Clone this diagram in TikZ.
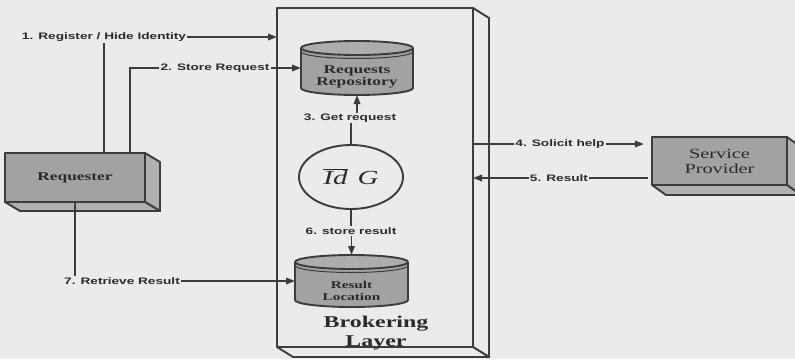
\documentclass[tikz,border=0pt]{standalone}
\usepackage{fontspec}
\setmainfont[FakeStretch=1.45]{Liberation Serif}
\newfontfamily\lblfont[FakeStretch=1.45]{Liberation Sans}
\usetikzlibrary{arrows.meta,calc,shapes.geometric}
\definecolor{bg}{HTML}{EBEBEB}
\definecolor{ln}{HTML}{3C3C3C}
\definecolor{boxf}{HTML}{A2A2A2}
\definecolor{boxs}{HTML}{B0B0B0}
\definecolor{cyltop}{HTML}{ADADAD}
\newcommand\lblf{\lblfont\bfseries\fontsize{9.4}{11}\selectfont}
\tikzset{
 edge/.style={draw=ln, line width=1.9pt},
 arr/.style={edge, -{Triangle[length=9pt,width=6.5pt]}},
 lbl/.style={font=\lblf, text=ln!70!black, inner sep=1pt},
 face/.style={draw=ln, line width=1.9pt, line join=round},
 holder/.style={inner sep=0pt, outer sep=0pt},
 boxtext/.style={font=\bfseries\fontsize{12}{12.5}\selectfont, text=ln!70!black, align=center},
}
\begin{document}
\begin{tikzpicture}[x=1pt,y=1pt]
\useasboundingbox (0,0) rectangle (795,-359);
\fill[bg] (0,0) rectangle (795,-359);

% Brokering layer (3D slab)
\draw[face, fill=bg] (473,-8) -- (489,-18) -- (489,-357) -- (473,-347) -- cycle;
\draw[face, fill=bg] (277,-347) -- (473,-347) -- (489,-357) -- (293,-357) -- cycle;
\node[face, holder, minimum width=196pt, minimum height=339pt] (bl) at (375,-177.5) {};
\node[font=\bfseries\fontsize{16.5}{19}\selectfont, text=ln!70!black, align=center] (blt) at (376,-333) {Brokering\\Layer};

% Requester (3D box)
\draw[face, fill=boxs] (145,-153) -- (160,-162) -- (160,-211) -- (145,-202) -- cycle;
\draw[face, fill=boxs] (5,-202) -- (145,-202) -- (160,-211) -- (20,-211) -- cycle;
\node[face, holder, fill=boxf, minimum width=140pt, minimum height=49pt, boxtext] (req) at (75,-177.5) {Requester};

% Service Provider (3D box)
\draw[face, fill=boxs] (787,-137) -- (801,-147) -- (801,-195) -- (787,-185) -- cycle;
\draw[face, fill=boxs] (652,-185) -- (787,-185) -- (801,-195) -- (666,-195) -- cycle;
\node[face, holder, fill=boxf, minimum width=135pt, minimum height=48pt, align=center,
      font=\fontsize{14}{15}\selectfont, text=ln!70!black] (sp) at (719.5,-161) {Service\\Provider};

% Requests Repository (cylinder)
\fill[boxf] (301,-48) -- (301,-88) arc[start angle=180,end angle=360,x radius=56,y radius=7] -- (413,-48) -- cycle;
\draw[face, fill=cyltop] (357,-48) ellipse[x radius=56,y radius=7];
\draw[draw=ln, line width=1pt] (301,-51.5) arc[start angle=180,end angle=360,x radius=56,y radius=7];
\draw[face] (301,-48) -- (301,-88) arc[start angle=180,end angle=360,x radius=56,y radius=7] -- (413,-48);
\node[holder, minimum width=112pt, minimum height=54pt] (rr) at (357,-68) {};
\node[boxtext] (rrt) at (357,-77) {Requests\\Repository};

% Result Location (cylinder)
\fill[boxf] (295,-262) -- (295,-300) arc[start angle=180,end angle=360,x radius=56.5,y radius=7] -- (408,-262) -- cycle;
\draw[face, fill=cyltop] (351.5,-262) ellipse[x radius=56.5,y radius=7];
\draw[draw=ln, line width=1pt] (295,-265.5) arc[start angle=180,end angle=360,x radius=56.5,y radius=7];
\draw[face] (295,-262) -- (295,-300) arc[start angle=180,end angle=360,x radius=56.5,y radius=7] -- (408,-262);
\node[holder, minimum width=113pt, minimum height=52pt] (rl) at (351.5,-281) {};
\node[boxtext, font=\bfseries\fontsize{10.5}{12}\selectfont] (rlt) at (351.5,-291) {Result\\Location};

% Identity generator
\node[draw=ln, line width=1.9pt, ellipse, inner sep=0pt, minimum width=104pt, minimum height=64pt,
      font=\fontsize{20}{22}\selectfont\itshape, text=ln!70!black] (idg) at (351,-177)
      {$\overline{\hbox{\itshape Id}}$\hspace{10pt}G};

% Labels
\node[lbl] (l1) at (104,-37) {1. Register / Hide Identity};
\node[lbl] (l2) at (215,-68) {2. Store Request};
\node[lbl] (l3) at (350,-118) {3. Get request};
\node[lbl] (l4) at (560,-144) {4. Solicit help};
\node[lbl] (l5) at (559,-178) {5. Result};
\node[lbl] (l6) at (351,-231) {6. store result};
\node[lbl] (l7) at (122,-281) {7. Retrieve Result};

% Connectors
\draw[edge] ([xshift=29pt]req.north) -- (l1.south);
\draw[arr] (l1.east) -- (bl.west |- l1.east);
\draw[edge] ([xshift=55pt]req.north) |- (l2.west);
\draw[arr] (l2.east) -- (rr.west);
\draw[edge] (idg.north) -- (idg.north |- l3.south);
\draw[arr] (l3.north -| rr.south) -- (rr.south);
\draw[edge] (bl.east |- l4.west) -- (l4.west);
\draw[arr, shorten >=8pt] (l4.east) -- (sp.west |- l4.east);
\draw[edge, shorten <=4pt] (sp.west |- l5.east) -- (l5.east);
\draw[arr] (l5.west) -- (bl.east |- l5.west);
\draw[edge] (idg.south) -- (idg.south |- l6.north);
\draw[arr] (l6.south -| rl.north) -- (rl.north);
\draw[edge] (req.south) -- (req.south |- l7.north);
\draw[arr] (l7.east) -- (rl.west);
\end{tikzpicture}
\end{document}
